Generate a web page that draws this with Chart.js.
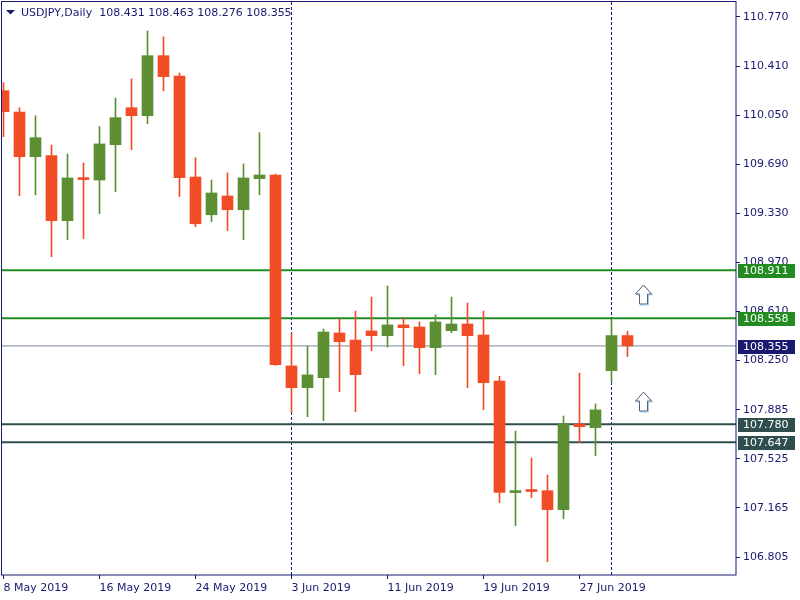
<!DOCTYPE html>
<html><head><meta charset="utf-8">
<script src="https://cdn.jsdelivr.net/npm/chart.js@4.4.1/dist/chart.umd.min.js"></script>
<style>html,body{margin:0;padding:0;background:#fff}#wrap{width:800px;height:600px;position:relative}</style>
</head><body><div id="wrap"><canvas id="c" width="800" height="600"></canvas></div>
<script>
// ---------- DATA ----------
const symbol = "USDJPY,Daily";
const dates = ["2019-05-08","2019-05-09","2019-05-10","2019-05-13","2019-05-14","2019-05-15","2019-05-16","2019-05-17",
  "2019-05-20","2019-05-21","2019-05-22","2019-05-23","2019-05-24","2019-05-27","2019-05-28","2019-05-29","2019-05-30","2019-05-31",
  "2019-06-03","2019-06-04","2019-06-05","2019-06-06","2019-06-07","2019-06-10","2019-06-11","2019-06-12","2019-06-13","2019-06-14",
  "2019-06-17","2019-06-18","2019-06-19","2019-06-20","2019-06-21","2019-06-24","2019-06-25","2019-06-26","2019-06-27","2019-06-28",
  "2019-07-01","2019-07-02"];
const opens  = [110.229,110.072,109.744,109.752,109.274,109.580,109.573,109.832,110.104,110.045,110.486,110.337,109.595,109.318,109.456,109.355,109.583,109.610,
  108.208,108.048,108.122,108.450,108.398,108.465,108.430,108.509,108.494,108.342,108.467,108.516,108.435,108.097,107.278,107.292,107.292,107.153,107.782,107.755,
  108.173,108.431];
const highs  = [110.288,110.104,110.045,109.830,109.764,109.698,109.965,110.175,110.315,110.667,110.625,110.359,109.737,109.573,109.625,109.691,109.921,109.617,
  108.448,108.354,108.479,108.553,108.611,108.714,108.795,108.560,108.531,108.582,108.714,108.670,108.611,108.132,107.730,107.532,107.407,107.840,108.156,107.929,
  108.550,108.463];
const lows   = [109.891,109.458,109.463,109.010,109.135,109.142,109.326,109.487,109.796,109.987,110.229,109.451,109.230,109.267,109.201,109.135,109.465,108.212,
  107.868,107.835,107.806,108.019,107.872,108.320,108.347,108.210,108.151,108.144,108.452,108.048,107.887,107.204,107.035,107.241,106.771,107.086,107.644,107.549,
  108.088,108.276];
const closes = [110.075,109.744,109.884,109.274,109.588,109.576,109.838,110.031,110.045,110.486,110.332,109.590,109.252,109.478,109.355,109.588,109.610,108.217,
  108.048,108.142,108.457,108.386,108.144,108.430,108.509,108.489,108.342,108.531,108.516,108.430,108.085,107.280,107.290,107.286,107.153,107.782,107.762,107.885,
  108.431,108.355];
const xTickIndex  = [0, 6, 12, 18, 24, 30, 36];
const xTickLabels = ["8 May 2019","16 May 2019","24 May 2019","3 Jun 2019","11 Jun 2019","19 Jun 2019","27 Jun 2019"];
const yTickLabels = ["110.770","110.410","110.050","109.690","109.330","108.970","108.610","108.250","107.885","107.525","107.165","106.805"];
const levelPrices = [108.911, 108.558, 107.780, 107.647];
const signalIndex  = [40, 40];
const signalPrices = [108.729, 107.943];

// ---------- STYLE ----------
const NAVY = '#191970';
const UP = '#5b8f31', DOWN = '#f24c27';
const levelColors = ['#228b22', '#228b22', '#2f4f4f', '#2f4f4f'];
const BID_COLOR = '#7a8896', BID_BOX = '#191970';
const FONT = '"DejaVu Sans", sans-serif';
const X_MIN = -1.5/16, X_MAX = X_MIN + 734/16;
const Y_MIN = 106.673, Y_MAX = 110.880;

const candleColors = opens.map((o,i) => closes[i] >= o ? UP : DOWN);
const lastClose = closes[closes.length-1];
const monthStarts = dates.map((d,i) => (i>0 && d.slice(5,7) !== dates[i-1].slice(5,7)) ? i : -1).filter(i => i >= 0);

const datasets = [
  { type:'bar', label:'wick', data: dates.map((d,i)=>({x:i, y:[lows[i], highs[i]]})),
    backgroundColor: candleColors, barThickness: 1, grouped:false, borderWidth:0, order:2 },
  { type:'bar', label:'body', data: dates.map((d,i)=>({x:i, y:[Math.min(opens[i],closes[i]), Math.max(opens[i],closes[i])]})),
    backgroundColor: candleColors, barThickness: 11, grouped:false, borderWidth:0, minBarLength:2, order:1 },
  { type:'line', label:'bid', data:[{x:X_MIN,y:lastClose},{x:X_MAX,y:lastClose}],
    borderColor: BID_COLOR, borderWidth:1, pointRadius:0, order:10 }
];
levelPrices.forEach((p,j) => datasets.push({ type:'line', label:'L'+j, data:[{x:X_MIN,y:p},{x:X_MAX,y:p}],
  borderColor: levelColors[j], borderWidth:2, pointRadius:0, order:9 }));

function drawArrow(ctx, cx, cy) {
  const t = cy - 10;
  const path = (dx, dy) => {
    ctx.beginPath();
    ctx.moveTo(cx+dx, t+dy);
    ctx.lineTo(cx+8+dx, t+9+dy);
    ctx.lineTo(cx+4+dx, t+9+dy);
    ctx.lineTo(cx+4+dx, t+19+dy);
    ctx.lineTo(cx-4+dx, t+19+dy);
    ctx.lineTo(cx-4+dx, t+9+dy);
    ctx.lineTo(cx-8+dx, t+9+dy);
    ctx.closePath();
  };
  ctx.lineWidth = 1;
  path(1, 1); ctx.strokeStyle = '#9fd0f2'; ctx.stroke();
  path(0, 0); ctx.fillStyle = '#fff'; ctx.fill(); ctx.strokeStyle = '#56607a'; ctx.stroke();
}

const overlay = {
  id: 'overlay',
  beforeDatasetsDraw(chart) {
    const {ctx, chartArea: a, scales:{x, y}} = chart;
    ctx.save();
    ctx.strokeStyle = NAVY; ctx.lineWidth = 1; ctx.setLineDash([3,2]);
    monthStarts.forEach(i => {
      const px = Math.round(x.getPixelForValue(i) - 0.5) + 0.5;
      ctx.beginPath(); ctx.moveTo(px, a.top); ctx.lineTo(px, a.bottom); ctx.stroke();
    });
    ctx.restore();
  },
  afterDraw(chart) {
    const {ctx, chartArea: a, scales:{x, y}} = chart;
    ctx.save();
    // frame
    ctx.strokeStyle = NAVY; ctx.lineWidth = 1;
    ctx.strokeRect(a.left - 0.5, a.top - 0.5, a.right - a.left + 0.5, a.bottom - a.top + 0.5);
    // signal arrows
    signalIndex.forEach((k, j) => drawArrow(ctx, x.getPixelForValue(k), y.getPixelForValue(signalPrices[j])));
    // price boxes
    ctx.font = '11px ' + FONT; ctx.textBaseline = 'middle'; ctx.textAlign = 'left';
    const box = (p, col) => {
      const py = Math.round(y.getPixelForValue(p));
      ctx.fillStyle = col; ctx.fillRect(a.right + 2, py - 6, 57, 14);
      ctx.fillStyle = '#fff'; ctx.fillText(p.toFixed(3), a.right + 7, py + 1);
    };
    levelPrices.forEach((p,j) => box(p, levelColors[j]));
    box(lastClose, BID_BOX);
    // title
    ctx.fillStyle = NAVY;
    ctx.beginPath(); ctx.moveTo(6,10); ctx.lineTo(15,10); ctx.lineTo(10.5,14.5); ctx.closePath(); ctx.fill();
    const n = opens.length - 1;
    ctx.textBaseline = 'alphabetic';
    ctx.fillText(symbol + '  ' + [opens[n], highs[n], lows[n], closes[n]].map(v => v.toFixed(3)).join(' '), 21, 16);
    ctx.restore();
  }
};

new Chart(document.getElementById('c'), {
  type: 'bar',
  data: { datasets },
  plugins: [overlay],
  options: {
    responsive: false, animation: false, devicePixelRatio: 1,
    layout: { padding: { top: 2, left: 2, right: 0, bottom: 0 } },
    plugins: { legend: { display:false }, tooltip: { enabled:false }, title: { display:false } },
    scales: {
      x: {
        type: 'linear', min: X_MIN, max: X_MAX, offset: false,
        border: { display: false },
        grid: { display: true, drawOnChartArea: false, drawTicks: true, tickLength: 4, color: NAVY, offset: false },
        ticks: { autoSkip: false, maxRotation: 0, minRotation: 0, align: 'start', padding: 3,
          color: NAVY, font: { family: FONT, size: 11 }, callback: (v, i) => xTickLabels[i] },
        afterBuildTicks: s => { s.ticks = xTickIndex.map(v => ({ value: v })); },
        afterFit: s => { s.height = 25; s.paddingLeft = 0; s.paddingRight = 0; }
      },
      y: {
        type: 'linear', position: 'right', min: Y_MIN, max: Y_MAX, beginAtZero: false,
        border: { display: false },
        grid: { display: true, drawOnChartArea: false, drawTicks: true, tickLength: 4, color: NAVY },
        ticks: { autoSkip: false, padding: 3, color: NAVY, font: { family: FONT, size: 11 },
          callback: (v, i) => yTickLabels[i] },
        afterBuildTicks: s => { s.ticks = yTickLabels.map(v => ({ value: parseFloat(v) })); },
        afterFit: s => { s.width = 64; s.paddingTop = 0; s.paddingBottom = 0; }
      }
    }
  }
});
</script></body></html>
